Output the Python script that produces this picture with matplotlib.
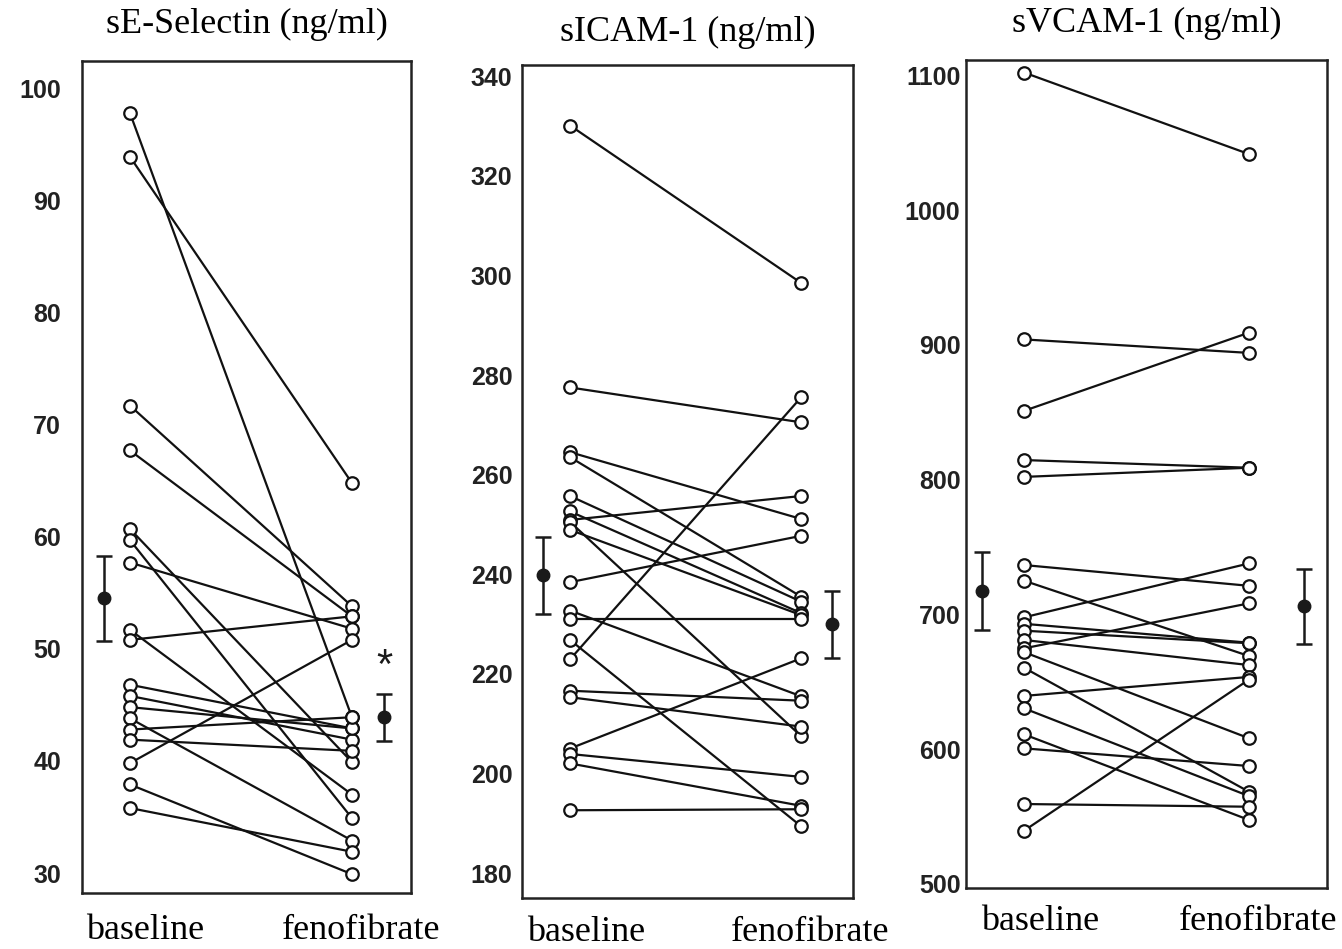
import numpy as np
import matplotlib
matplotlib.use("Agg")
import matplotlib.pyplot as plt

# sE-Selectin (ng/ml): paired values, baseline -> fenofibrate
sel_base = [97.8, 93.9, 71.7, 67.7, 60.7, 59.7, 57.7, 51.7, 50.8,
            46.8, 45.8, 44.8, 43.8, 42.8, 41.9, 39.8, 37.9, 35.8]
sel_feno = [43.9, 64.8, 53.8, 52.9, 39.9, 34.9, 51.8, 37.0, 52.9,
            42.9, 41.9, 42.9, 32.9, 43.9, 40.9, 50.8, 29.9, 31.9]
sel_mean = [54.5, 43.9]
sel_err = [3.8, 2.1]

# sICAM-1 (ng/ml)
icam_base = [330.1, 277.5, 264.5, 263.5, 255.7, 252.6, 250.9, 250.5, 248.9, 238.4,
             232.7, 231.1, 226.8, 222.9, 216.6, 215.3, 205.0, 203.9, 202.0, 192.6]
icam_feno = [298.5, 270.5, 251.1, 235.5, 234.5, 232.2, 255.7, 207.5, 231.8, 247.7,
             215.5, 231.1, 189.4, 275.5, 214.6, 209.4, 223.1, 199.3, 193.5, 192.8]
icam_mean = [239.8, 229.9]
icam_err = [7.7, 6.8]

# sVCAM-1 (ng/ml)
vcam_base = [1102, 904, 851, 814.5, 802, 736.6, 725, 697.8, 693, 687.9,
             681, 674.8, 672, 660.4, 639.5, 630.3, 611, 600.6, 559.3, 539.5]
vcam_feno = [1041.5, 894, 909, 808.8, 808.8, 721.2, 669.1, 737.8, 679, 678.6,
             662.4, 708.2, 608.1, 568.4, 653.6, 565.2, 547.5, 587.5, 557.3, 651.6]
vcam_mean = [717.6, 706.0]
vcam_err = [29, 28]

titles = ["sE-Selectin (ng/ml)", "sICAM-1 (ng/ml)", "sVCAM-1 (ng/ml)"]
groups = ["baseline", "fenofibrate"]

W, H = 1342, 949
fig = plt.figure(figsize=(W / 100, H / 100), dpi=100)

serif = "Liberation Serif"
sans = "Liberation Sans"

panels = [
    dict(base=sel_base, feno=sel_feno, mean=sel_mean, err=sel_err,
         box=(82, 61, 411, 893), ylim=(28.22, 102.44), yticks=np.arange(30, 101, 10),
         xlim=(-0.216, 1.266), mx=(-0.117, 1.144), ypad=15, tpad=20, xpad=15, star=True),
    dict(base=icam_base, feno=icam_feno, mean=icam_mean, err=icam_err,
         box=(522, 65, 853, 898), ylim=(174.98, 342.25), yticks=np.arange(180, 341, 20),
         xlim=(-0.208, 1.225), mx=(-0.118, 1.134), ypad=7, tpad=17, xpad=13, star=False),
    dict(base=vcam_base, feno=vcam_feno, mean=vcam_mean, err=vcam_err,
         box=(966, 60, 1327, 888), ylim=(497.0, 1111.3), yticks=np.arange(500, 1101, 100),
         xlim=(-0.258, 1.347), mx=(-0.187, 1.244), ypad=4, tpad=20, xpad=12, star=False),
]

for p, title in zip(panels, titles):
    x0, y0, x1, y1 = p["box"]
    ax = fig.add_axes([x0 / W, (H - y1) / H, (x1 - x0) / W, (y1 - y0) / H])
    for b, f in zip(p["base"], p["feno"]):
        ax.plot([0, 1], [b, f], color="#111111", lw=1.6, marker="o", ms=9,
                mfc="white", mec="#111111", mew=1.6, zorder=3)
    ax.errorbar(p["mx"], p["mean"], yerr=p["err"], fmt="o", color="#1a1a1a",
                ms=9, elinewidth=1.8, capsize=6, capthick=1.8, zorder=4)
    if p["star"]:
        ax.text(p["mx"][1], sel_mean[1] + sel_err[1] + 0.6, "*", ha="center", va="bottom",
                fontsize=30, family=sans, color="#1a1a1a")
    ax.set_xlim(*p["xlim"])
    ax.set_ylim(*p["ylim"])
    ax.set_yticks(p["yticks"])
    ax.set_yticklabels([str(v) for v in p["yticks"]], fontsize=18,
                       fontweight="bold", family=sans, color="#222222")
    ax.set_xticks([0.07, 1.04])
    ax.set_xticklabels(groups, fontsize=26, family=serif)
    ax.tick_params(axis="y", length=0, pad=p["ypad"])
    ax.tick_params(axis="x", length=0, pad=p["xpad"])
    for s in ax.spines.values():
        s.set_linewidth(1.8)
        s.set_color("#222222")
    ax.set_title(title, fontsize=26, family=serif, pad=p["tpad"])

fig.savefig("out.png", dpi=100)
